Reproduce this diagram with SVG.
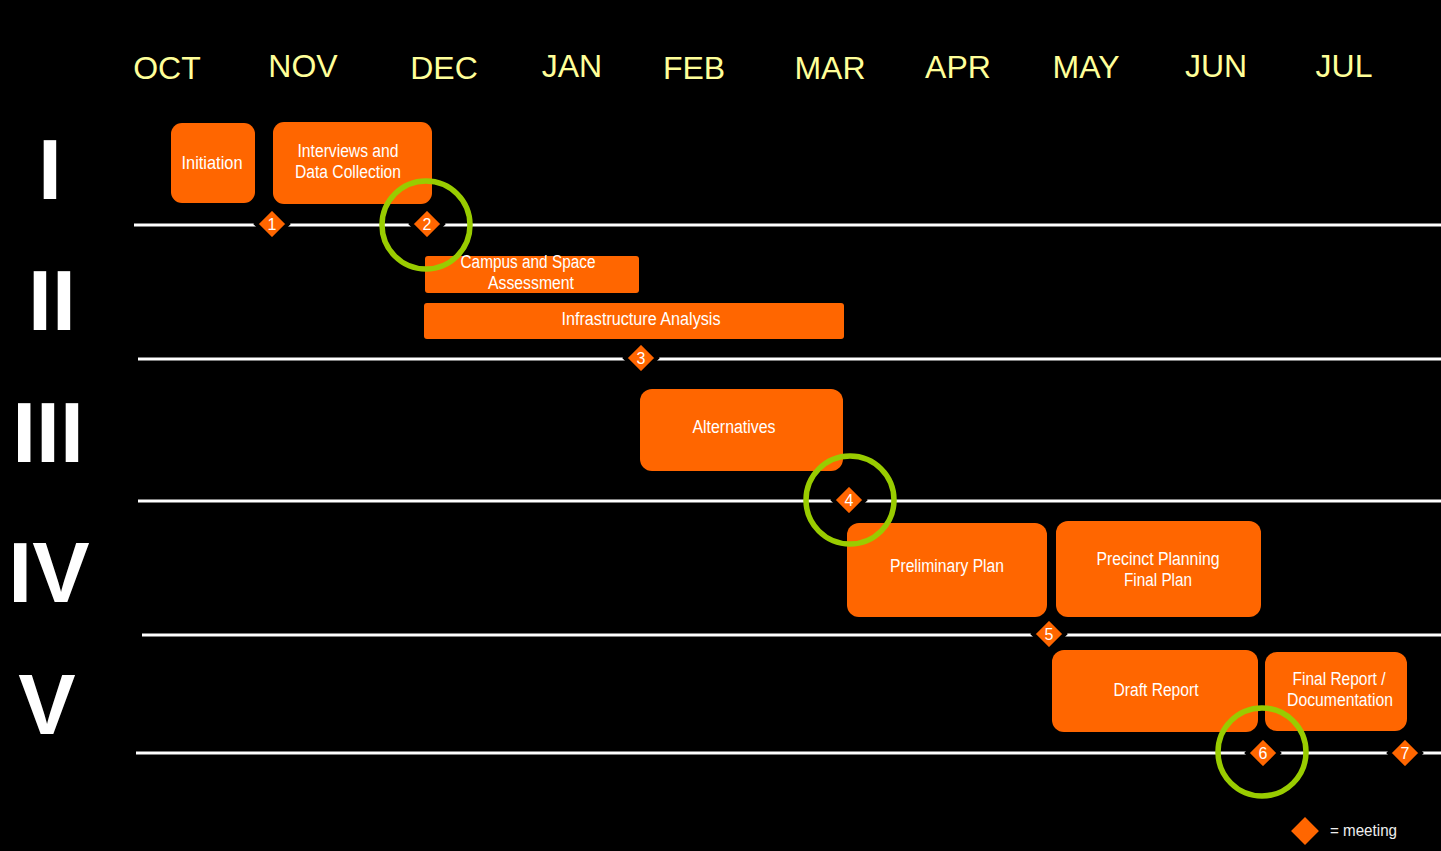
<svg xmlns="http://www.w3.org/2000/svg" width="1441" height="851" viewBox="0 0 1441 851">
<style>
.bg{fill:#000}
.month{font-family:"Liberation Sans",Arial,sans-serif;font-size:32px;fill:#FFFF99;text-anchor:middle}
.roman{font-family:"Liberation Sans",Arial,sans-serif;font-weight:bold;font-size:86px;fill:#fff;text-anchor:middle}
.box{fill:#FF6600}
.lbl{font-family:"Liberation Sans",Arial,sans-serif;font-size:18px;fill:#fff;text-anchor:middle}
.line{stroke:#fff;stroke-width:3}
.dia{fill:#FF6600;stroke:#000;stroke-width:4}
.num{font-family:"Liberation Sans",Arial,sans-serif;font-size:16px;fill:#fff;text-anchor:middle}
.ring{fill:none;stroke:#99CC00;stroke-width:5.5}
</style>
<defs>
<path id="d" d="M0,-16 L16,0 L0,16 L-16,0 Z"/>
</defs>
<rect class="bg" x="0" y="0" width="1441" height="851"/>

<g id="months">
<text class="month" x="167" y="79">OCT</text>
<text class="month" x="303" y="77">NOV</text>
<text class="month" x="444" y="79">DEC</text>
<text class="month" x="572" y="77">JAN</text>
<text class="month" x="694" y="79">FEB</text>
<text class="month" x="830" y="79">MAR</text>
<text class="month" x="958" y="78">APR</text>
<text class="month" x="1086" y="78">MAY</text>
<text class="month" x="1216" y="77">JUN</text>
<text class="month" x="1344" y="77">JUL</text>
</g>

<g id="phases">
<text class="roman" x="50" y="199">I</text>
<text class="roman" x="52" y="330">II</text>
<text class="roman" x="48" y="462">III</text>
<text class="roman" x="49" y="602">IV</text>
<text class="roman" x="47" y="734">V</text>
</g>

<g id="connectors">
<line class="line" x1="134" y1="225" x2="1441" y2="225"/>
<line class="line" x1="138" y1="359" x2="1441" y2="359"/>
<line class="line" x1="138" y1="501" x2="1441" y2="501"/>
<line class="line" x1="142" y1="635" x2="1441" y2="635"/>
<line class="line" x1="136" y1="753" x2="1441" y2="753"/>
</g>

<g id="n-initiation">
<rect class="box" x="171" y="123" width="84" height="80" rx="11"/>
<text class="lbl" x="212" y="169" textLength="61" lengthAdjust="spacingAndGlyphs">Initiation</text>
</g>
<g id="n-interviews">
<rect class="box" x="273" y="122" width="159" height="82" rx="11"/>
<text class="lbl" x="348" y="157" textLength="101" lengthAdjust="spacingAndGlyphs">Interviews and</text>
<text class="lbl" x="348" y="178" textLength="106" lengthAdjust="spacingAndGlyphs">Data Collection</text>
</g>
<g id="n-campus">
<rect class="box" x="425" y="256" width="214" height="37" rx="3"/>
<text class="lbl" x="528" y="268" textLength="135" lengthAdjust="spacingAndGlyphs">Campus and Space</text>
<text class="lbl" x="531" y="289" textLength="86" lengthAdjust="spacingAndGlyphs">Assessment</text>
</g>
<g id="n-infra">
<rect class="box" x="424" y="303" width="420" height="36" rx="3"/>
<text class="lbl" x="641" y="325" textLength="159" lengthAdjust="spacingAndGlyphs">Infrastructure Analysis</text>
</g>
<g id="n-alternatives">
<rect class="box" x="640" y="389" width="203" height="82" rx="12"/>
<text class="lbl" x="734" y="433" textLength="83" lengthAdjust="spacingAndGlyphs">Alternatives</text>
</g>
<g id="n-preliminary">
<rect class="box" x="847" y="523" width="200" height="94" rx="12"/>
<text class="lbl" x="947" y="572" textLength="114" lengthAdjust="spacingAndGlyphs">Preliminary Plan</text>
</g>
<g id="n-precinct">
<rect class="box" x="1056" y="521" width="205" height="96" rx="12"/>
<text class="lbl" x="1158" y="565" textLength="123" lengthAdjust="spacingAndGlyphs">Precinct Planning</text>
<text class="lbl" x="1158" y="586" textLength="68" lengthAdjust="spacingAndGlyphs">Final Plan</text>
</g>
<g id="n-draft">
<rect class="box" x="1052" y="650" width="206" height="82" rx="12"/>
<text class="lbl" x="1156" y="696" textLength="85" lengthAdjust="spacingAndGlyphs">Draft Report</text>
</g>
<g id="n-final">
<rect class="box" x="1265" y="652" width="142" height="79" rx="12"/>
<text class="lbl" x="1339" y="685" textLength="93" lengthAdjust="spacingAndGlyphs">Final Report /</text>
<text class="lbl" x="1340" y="706" textLength="106" lengthAdjust="spacingAndGlyphs">Documentation</text>
</g>

<g id="meetings">
<g id="m1"><use href="#d" class="dia" x="272" y="224"/><text class="num" x="272" y="230">1</text></g>
<g id="m2"><use href="#d" class="dia" x="427" y="224"/><text class="num" x="427" y="230">2</text></g>
<g id="m3"><use href="#d" class="dia" x="641" y="358"/><text class="num" x="641" y="364">3</text></g>
<g id="m4"><use href="#d" class="dia" x="849" y="500"/><text class="num" x="849" y="506">4</text></g>
<g id="m5"><use href="#d" class="dia" x="1049" y="634"/><text class="num" x="1049" y="640">5</text></g>
<g id="m6"><use href="#d" class="dia" x="1263" y="753"/><text class="num" x="1263" y="759">6</text></g>
<g id="m7"><use href="#d" class="dia" x="1405" y="753"/><text class="num" x="1405" y="759">7</text></g>
</g>

<g id="highlights">
<circle class="ring" cx="426" cy="225" r="44"/>
<circle class="ring" cx="850" cy="500" r="44"/>
<circle class="ring" cx="1262" cy="752" r="44"/>
</g>

<g id="legend">
<use href="#d" class="dia" x="1305" y="831" style="stroke:none" transform="translate(1305 831) scale(0.87) translate(-1305 -831)"/>
<text x="1330" y="836" style="font-family:'Liberation Sans',Arial,sans-serif;font-size:17px;fill:#eee" textLength="67" lengthAdjust="spacingAndGlyphs">= meeting</text>
</g>
</svg>
